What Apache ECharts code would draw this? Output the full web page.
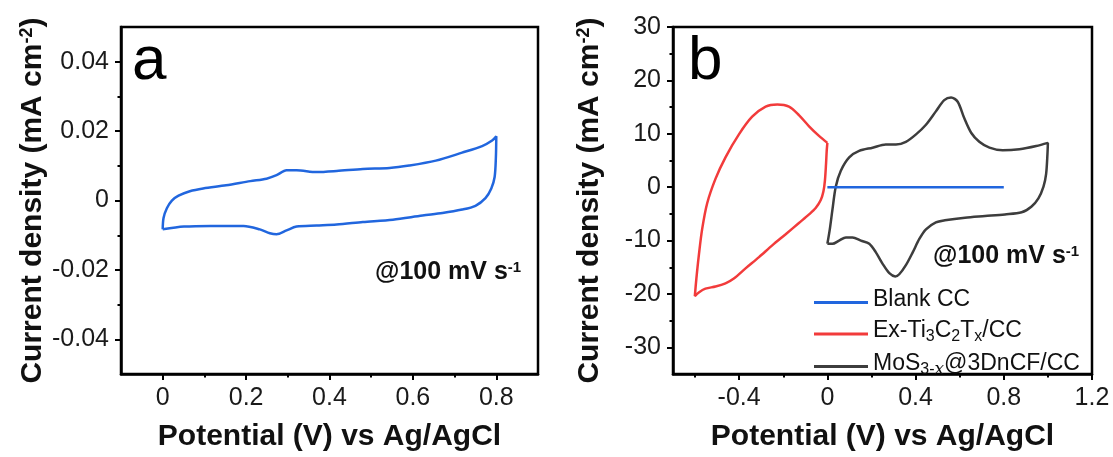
<!DOCTYPE html>
<html>
<head>
<meta charset="utf-8">
<script src="https://cdn.jsdelivr.net/npm/echarts@6/dist/echarts.min.js"></script>
<style>
  html, body { margin: 0; padding: 0; background: #fff; }
  #chart { width: 1113px; height: 457px; }
</style>
</head>
<body>
<div id="chart"></div>
<script>
// ---- panel a: blank CC, CV loop ----
const aPotential = [0, 0.002, 0.01, 0.022, 0.038, 0.065, 0.097, 0.152, 0.21, 0.249, 0.273, 0.297, 0.321, 0.369, 0.417, 0.48, 0.544, 0.591, 0.655, 0.718, 0.766, 0.79, 0.8,
  0.799, 0.796, 0.788, 0.774, 0.75, 0.718, 0.671, 0.623, 0.552, 0.48, 0.417, 0.369, 0.321, 0.297, 0.273, 0.257, 0.233, 0.194, 0.115, 0.051, 0];
const aCurrent = [-0.0083, -0.005, -0.0022, 0, 0.0014, 0.0027, 0.0035, 0.0044, 0.0056, 0.0063, 0.0073, 0.0087, 0.0087, 0.0082, 0.0085, 0.0091, 0.0094, 0.0101, 0.0115, 0.0138, 0.0157, 0.0173, 0.0185,
  0.0124, 0.0068, 0.0035, 0.0007, -0.0015, -0.0026, -0.0036, -0.0043, -0.0055, -0.0062, -0.0069, -0.0072, -0.0075, -0.0086, -0.0097, -0.0094, -0.0083, -0.0073, -0.0073, -0.0075, -0.0083];

// ---- panel b ----
const bBlankX = [0, 0.2, 0.4, 0.6, 0.8];
const bBlankY = [0, 0, 0, 0, 0];

const bTiX = [0, -0.038, -0.083, -0.129, -0.174, -0.227, -0.28, -0.341, -0.401, -0.462, -0.507, -0.545, -0.568, -0.583, -0.594, -0.601,
  -0.583, -0.553, -0.507, -0.462, -0.424, -0.371, -0.31, -0.25, -0.189, -0.129, -0.083, -0.053, -0.03, -0.018, -0.011, -0.006, -0.003, 0];
const bTiY = [8.3, 9.6, 11.4, 13.5, 15.1, 15.5, 15.1, 13.2, 9.9, 5.6, 1.6, -3.0, -7.9, -12.8, -17.1, -20.4,
  -19.7, -19.0, -18.6, -18.0, -17.1, -15.2, -13.1, -10.9, -8.8, -6.7, -5.1, -3.9, -2.4, -0.8, 1.3, 4.4, 6.8, 8.3];

const bMoX = [0, 0.011, 0.023, 0.038, 0.061, 0.099, 0.144, 0.205, 0.265, 0.311, 0.356, 0.402, 0.447, 0.492, 0.53, 0.561, 0.591, 0.621, 0.652, 0.689, 0.735, 0.795, 0.871, 0.947, 1.0,
  0.998, 0.992, 0.98, 0.957, 0.926, 0.881, 0.805, 0.715, 0.624, 0.533, 0.492, 0.447, 0.417, 0.387, 0.356, 0.326, 0.308, 0.281, 0.25, 0.22, 0.19, 0.152, 0.114, 0.084, 0.053, 0.023, 0];
const bMoY = [-10.6, -7.9, -4.2, 0.1, 3.1, 5.6, 6.8, 7.4, 8.0, 8.0, 8.5, 9.9, 11.7, 14.2, 16.3, 16.8, 16.0, 12.9, 10.2, 8.5, 7.4, 6.9, 7.1, 7.7, 8.3,
  6.2, 2.5, 0.1, -2.1, -3.6, -4.7, -5.1, -5.4, -5.7, -6.2, -6.6, -7.9, -9.7, -12.2, -14.6, -16.3, -16.7, -16.1, -14.3, -12.2, -10.6, -10.0, -9.4, -9.4, -10.0, -10.6, -10.6];

// ---- ticks ----
const aXMajor = [0, 0.2, 0.4, 0.6, 0.8];
const aXMinor = [0.1, 0.3, 0.5, 0.7];
const aYMajor = [-0.04, -0.02, 0, 0.02, 0.04];
const aYMinor = [-0.03, -0.01, 0.01, 0.03];
const bXMajor = [-0.4, 0, 0.4, 0.8, 1.2];
const bXMinor = [-0.6, -0.2, 0.2, 0.6, 1.0];
const bYMajor = [-30, -20, -10, 0, 10, 20, 30];
const bYMinor = [-25, -15, -5, 5, 15, 25];

const seriesNames = ['Blank CC', 'Ex-Ti3C2Tx/CC', 'MoS3-x@3DnCF/CC'];
const colors = ['#2166de', '#f23b3b', '#3d3d3d'];

const FONT = '"Liberation Sans", Arial, Helvetica, sans-serif';
const zip = (xs, ys) => xs.map((x, i) => [x, ys[i]]);

const chart = echarts.init(document.getElementById('chart'));

const fmt = (digits) => (v) => (Math.abs(v) < 1e-9 ? '0' : v.toFixed(digits));

function mainAxis(gridIndex, min, max, major, digits, extra) {
  return Object.assign({
    type: 'value', gridIndex, min, max,
    axisLine: { show: true, onZero: false, lineStyle: { color: '#000', width: 2.5 } },
    axisTick: { show: true, customValues: major, length: 6, lineStyle: { color: '#000', width: 2 } },
    axisLabel: { customValues: major, formatter: fmt(digits), color: '#1a1a1a', fontSize: 25, fontFamily: FONT, margin: 12 },
    splitLine: { show: false }
  }, extra);
}

function minorAxis(gridIndex, min, max, minor, position) {
  return {
    type: 'value', gridIndex, min, max, position,
    axisLine: { show: false, onZero: false },
    axisTick: { show: true, customValues: minor, length: 3.5, lineStyle: { color: '#000', width: 2 } },
    axisLabel: { show: false },
    splitLine: { show: false }
  };
}

const titleRich = {
  t: { fontSize: 30, fontWeight: 'bold', fontFamily: FONT, color: '#111', lineHeight: 30, padding: [6, 0, 0, 0], verticalAlign: 'bottom' },
  sup: { fontSize: 18, fontWeight: 'bold', fontFamily: FONT, color: '#111', lineHeight: 18, verticalAlign: 'top' }
};
const xName = '{t|Potential (V) vs Ag/AgCl}';
const yName = '{t|Current density (mA cm}{sup|-2}{t|)}';

const xNameOpts = { name: xName, nameLocation: 'middle', nameGap: 42, nameTextStyle: { rich: titleRich } };
const yNameOpts = { name: yName, nameLocation: 'middle', nameGap: 68, nameRotate: 90, nameTextStyle: { rich: titleRich } };

// every token box is 30px tall, subscripts are pushed down by their top padding
const legendRich = {
  n: { fontSize: 23, fontFamily: FONT, color: '#111', lineHeight: 24, padding: [0, 0, 6, 0] },
  s: { fontSize: 16, fontFamily: FONT, color: '#111', lineHeight: 16, padding: [10, 0, 4, 0] },
  si: { fontSize: 17, fontFamily: 'DejaVu Serif, serif', fontStyle: 'italic', color: '#111', lineHeight: 16, padding: [10, 0, 4, 0] }
};
const legendText = {
  'Blank CC': '{n|Blank CC}',
  'Ex-Ti3C2Tx/CC': '{n|Ex-Ti}{s|3}{n|C}{s|2}{n|T}{s|x}{n|/CC}',
  'MoS3-x@3DnCF/CC': '{n|MoS}{s|3-}{si|x}{n|@3DnCF/CC}'
};

const noteRich = {
  t: { fontSize: 25, fontWeight: 'bold', fontFamily: FONT, fill: '#111', lineHeight: 25, padding: [5, 0, 0, 0], verticalAlign: 'bottom' },
  sup: { fontSize: 15, fontWeight: 'bold', fontFamily: FONT, fill: '#111', lineHeight: 15, verticalAlign: 'top' }
};
const noteText = '{t|@100 mV s}{sup|-1}';

const lineBase = { type: 'line', showSymbol: false, symbol: 'none', smooth: 0.3, lineStyle: { width: 2.5 } };

const option = {
  animation: false,
  backgroundColor: '#fff',
  textStyle: { fontFamily: FONT },
  grid: [
    { left: 121, top: 27, width: 417, height: 354, show: true, borderColor: '#000', borderWidth: 2.5, backgroundColor: 'transparent' },
    { left: 673, top: 27, width: 419, height: 354, show: true, borderColor: '#000', borderWidth: 2.5, backgroundColor: 'transparent' }
  ],
  xAxis: [
    mainAxis(0, -0.1, 0.9, aXMajor, 1, Object.assign({ position: 'bottom' }, xNameOpts)),
    minorAxis(0, -0.1, 0.9, aXMinor, 'bottom'),
    mainAxis(1, -0.7, 1.2, bXMajor, 1, Object.assign({ position: 'bottom' }, xNameOpts)),
    minorAxis(1, -0.7, 1.2, bXMinor, 'bottom')
  ],
  yAxis: [
    mainAxis(0, -0.05, 0.05, aYMajor, 2, Object.assign({ position: 'left' }, yNameOpts)),
    minorAxis(0, -0.05, 0.05, aYMinor, 'left'),
    mainAxis(1, -35, 30, bYMajor, 0, Object.assign({ position: 'left' }, yNameOpts)),
    minorAxis(1, -35, 30, bYMinor, 'left')
  ],
  legend: {
    orient: 'vertical', left: 809, top: 283,
    icon: 'rect', itemWidth: 54, itemHeight: 3, itemGap: 2,
    data: seriesNames,
    formatter: (name) => legendText[name],
    textStyle: { rich: legendRich }
  },
  series: [
    Object.assign({}, lineBase, { name: 'blank-a', xAxisIndex: 0, yAxisIndex: 0, color: colors[0], data: zip(aPotential, aCurrent) }),
    Object.assign({}, lineBase, { name: seriesNames[1], xAxisIndex: 2, yAxisIndex: 2, color: colors[1], data: zip(bTiX, bTiY) }),
    Object.assign({}, lineBase, { name: seriesNames[2], xAxisIndex: 2, yAxisIndex: 2, color: colors[2], data: zip(bMoX, bMoY) }),
    Object.assign({}, lineBase, { name: seriesNames[0], xAxisIndex: 2, yAxisIndex: 2, color: colors[0], smooth: false, z: 5, data: zip(bBlankX, bBlankY) })
  ],
  graphic: [
    { type: 'text', x: 132, y: 62, style: { text: 'a', font: '62px ' + FONT, fill: '#000', textVerticalAlign: 'middle' } },
    { type: 'text', x: 688, y: 62, style: { text: 'b', font: '62px ' + FONT, fill: '#000', textVerticalAlign: 'middle' } },
    { type: 'text', x: 375, y: 260, style: { text: noteText, rich: noteRich, fill: '#111' } },
    { type: 'text', x: 933, y: 244, style: { text: noteText, rich: noteRich, fill: '#111' } }
  ]
};

chart.setOption(option);
</script>
</body>
</html>
